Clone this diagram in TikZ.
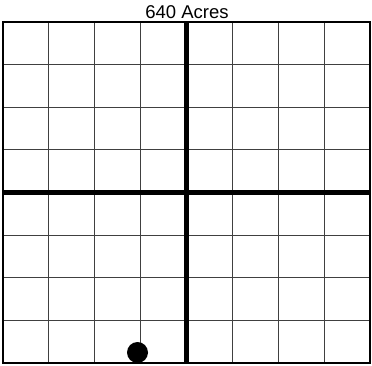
\documentclass[tikz,border=0pt]{standalone}
\usepackage{fontspec}
\setmainfont{Liberation Sans}
\begin{document}
\begin{tikzpicture}[x=1pt,y=1pt,
  gridline/.style={draw=black!75,line width=0.9pt},
  border/.style={draw=black,line width=2.2pt},
  heavy/.style={draw=black,line width=4.5pt},
  titletext/.style={font=\fontsize{18.5}{22}\selectfont,inner sep=0pt},
  marker/.style={circle,fill=black,minimum size=21pt,inner sep=0pt}]
\useasboundingbox (0,0) rectangle (372,365);
\foreach \i in {1,2,3,5,6,7} {
  \draw[gridline] ({3+\i*45.875},2) -- ({3+\i*45.875},343);
  \draw[gridline] (3,{2+\i*42.625}) -- (370,{2+\i*42.625});
}
\draw[heavy] (186.5,2) -- (186.5,343);
\draw[heavy] (3,172.5) -- (370,172.5);
\draw[border] (3,2) rectangle (370,343);
\node[titletext] (title) at (187,352.5) {640 Acres};
\node[marker] (dot) at (137.5,12.5) {};
\end{tikzpicture}
\end{document}
